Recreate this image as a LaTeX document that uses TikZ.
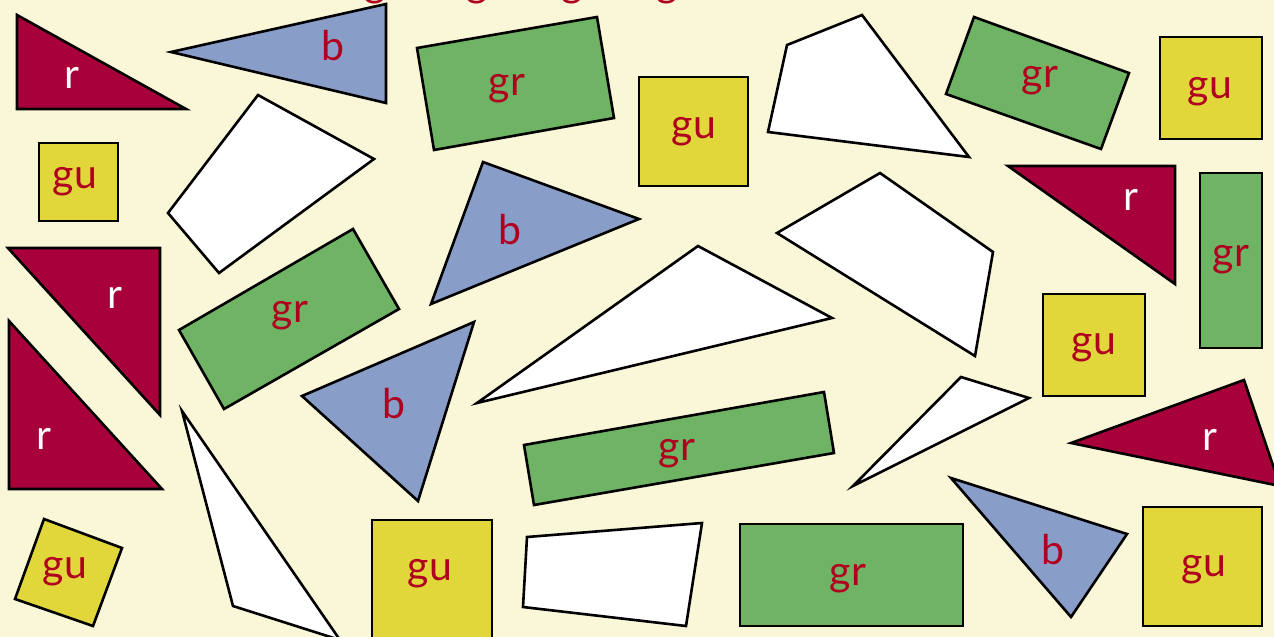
\documentclass[tikz,border=0pt]{standalone}
\usepackage{fontspec}
\setmainfont{Lato}
\definecolor{bgc}{HTML}{FAF7D8}
\definecolor{redf}{HTML}{A8003A}
\definecolor{bluef}{HTML}{899DC9}
\definecolor{greenf}{HTML}{6FB464}
\definecolor{yellowf}{HTML}{E1D73A}
\definecolor{labred}{HTML}{B00020}
\tikzset{
  shp/.style={draw=black, line width=2.6pt, line join=miter},
  rshape/.style={shp, fill=redf},
  bshape/.style={shp, fill=bluef},
  gshape/.style={shp, fill=greenf},
  yshape/.style={shp, fill=yellowf},
  wshape/.style={shp, fill=white},
  lab/.style={font=\fontsize{41}{43}\selectfont, text=labred, inner sep=0pt, yshift=-4pt},
  wlab/.style={lab, text=white},
  hdr/.style={font=\fontsize{41}{43}\selectfont, text=labred, inner sep=0pt, anchor=base},
}
\begin{document}
\begin{tikzpicture}[x=1pt,y=-1pt]
\useasboundingbox (0,0) rectangle (1274,637);
\clip (0,0) rectangle (1274,637);
\fill[bgc] (0,0) rectangle (1274,637);
% cut-off header text
\node[hdr] (h1) at (375,-3) {g};
\node[hdr] (h2) at (477,-3) {g};
\node[hdr] (h3) at (572,-3) {g};
\node[hdr] (h4) at (667,-3) {g};
% top-left red triangle
\draw[rshape] (17,15) -- (17,109) -- (186,109) -- cycle;
\node[wlab] (r1) at (72,74) {r};
% top blue triangle
\draw[bshape] (171,52) -- (386,4) -- (386,103) -- cycle;
\node[lab] (b1) at (333,42) {b};
% small yellow square
\draw[yshape] (39,143) rectangle (118,221);
\node[lab] (gu1) at (75,178) {gu};
% white quad
\draw[wshape] (258,95) -- (374,159) -- (219,273) -- (168,213) -- cycle;
% red triangle 2
\draw[rshape] (8,248) -- (160,248) -- (160,415) -- cycle;
\node[wlab] (r2) at (115,294) {r};
% green rect rotated
\draw[gshape] (179,330) -- (353,229) -- (399,309) -- (224,409) -- cycle;
\node[lab] (gr1) at (290,312) {gr};
% red triangle 3
\draw[rshape] (9,321) -- (9,489) -- (162,489) -- cycle;
\node[wlab] (r3) at (44,435) {r};
% blue triangle 2
\draw[bshape] (302,396) -- (474,322) -- (418,501) -- cycle;
\node[lab] (b2) at (394,400) {b};
% thin white triangle
\draw[wshape] (182,411) -- (233,606) -- (340,640) -- cycle;
% small rotated yellow square
\draw[yshape] (15,599) -- (44,519) -- (122,548) -- (93,626) -- cycle;
\node[lab] (gu2) at (65,568) {gu};
% bottom yellow square
\draw[yshape] (372,520) rectangle (492,645);
\node[lab] (gu3) at (430,570) {gu};
% green rect top
\draw[gshape] (417,48) -- (597,17) -- (614,118) -- (434,150) -- cycle;
\node[lab] (gr2) at (507,85) {gr};
% yellow square top
\draw[yshape] (639,77) rectangle (748,186);
\node[lab] (gu4) at (694,128) {gu};
% blue triangle 3
\draw[bshape] (483,162) -- (639,219) -- (431,304) -- cycle;
\node[lab] (b3) at (510,226) {b};
% big white triangle
\draw[wshape] (698,246) -- (832,318) -- (477,403) -- cycle;
% white quad top right
\draw[wshape] (787,45) -- (862,15) -- (969,157) -- (768,132) -- cycle;
% green rect top right
\draw[gshape] (946,94) -- (974,17) -- (1129,73) -- (1101,149) -- cycle;
\node[lab] (gr3) at (1040,77) {gr};
% yellow square top right
\draw[yshape] (1160,37) rectangle (1262,139);
\node[lab] (gu5) at (1210,88) {gu};
% red triangle right
\draw[rshape] (1008,166) -- (1175,166) -- (1175,284) -- cycle;
\node[wlab] (r4) at (1131,196) {r};
% vertical green rect
\draw[gshape] (1200,173) rectangle (1262,348);
\node[lab] (gr4) at (1231,256) {gr};
% white quad mid right
\draw[wshape] (777,233) -- (880,173) -- (993,252) -- (975,356) -- cycle;
% yellow square mid right
\draw[yshape] (1043,294) rectangle (1145,396);
\node[lab] (gu6) at (1094,344) {gu};
% small white triangle
\draw[wshape] (853,486) -- (961,377) -- (1029,398) -- cycle;
% red triangle far right
\draw[rshape] (1071,443) -- (1244,380) -- (1280,486) -- cycle;
\node[wlab] (r5) at (1210,436) {r};
% blue triangle bottom right
\draw[bshape] (951,478) -- (1127,534) -- (1071,617) -- cycle;
\node[lab] (b4) at (1053,546) {b};
% yellow square bottom right
\draw[yshape] (1143,507) rectangle (1262,626);
\node[lab] (gu7) at (1204,566) {gu};
% green rect bottom
\draw[gshape] (740,524) rectangle (963,626);
\node[lab] (gr5) at (848,575) {gr};
% long green rect
\draw[gshape] (524,445) -- (824,392) -- (834,453) -- (534,505) -- cycle;
\node[lab] (gr6) at (677,450) {gr};
% white quad bottom
\draw[wshape] (527,537) -- (702,523) -- (686,626) -- (523,607) -- cycle;
\end{tikzpicture}
\end{document}
